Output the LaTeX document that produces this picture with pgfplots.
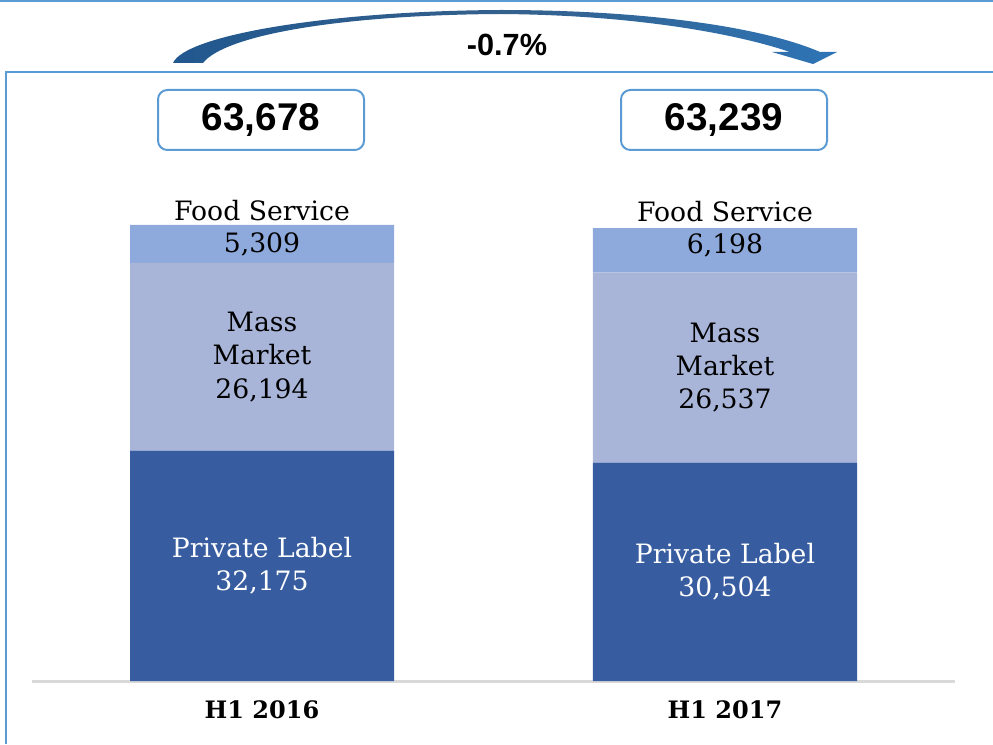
\documentclass[border=0pt]{standalone}
\usepackage{fontspec}
\setmainfont{DejaVu Serif}
\newfontfamily\lsans{Liberation Sans}
\usepackage{pgfplots}
\pgfplotsset{compat=1.18}

\definecolor{privblue}{RGB}{55,93,160}
\definecolor{massblue}{RGB}{168,181,217}
\definecolor{foodblue}{RGB}{142,170,220}
\definecolor{framecol}{RGB}{91,155,213}
\definecolor{basegray}{RGB}{217,217,217}
\definecolor{arrowdark}{RGB}{33,88,143}
\definecolor{arrowlight}{RGB}{46,116,181}

\tikzset{
  barlbl/.style={font=\fontsize{20}{25}\selectfont, align=center, inner sep=0pt},
  totbox/.style={draw=framecol, line width=1.5pt, rounded corners=7pt,
    minimum width=154.5pt, minimum height=45pt, fill=white,
    font=\lsans\bfseries\fontsize{29}{32}\selectfont},
}

\begin{document}
\begin{tikzpicture}[x=0.75pt,y=0.75pt]
\useasboundingbox (0,0) rectangle (993,744);
% frame lines
\draw[framecol, line width=1.5pt] (0,743) -- (993,743);
\draw[framecol, line width=1pt] (993,672) -- (6,672) -- (6,0);

\begin{axis}[
    at={(24pt,47.25pt)}, anchor=south west,
    scale only axis,
    width=692.25pt, height=376pt,
    xmin=-0.4968, xmax=1.4968,
    ymin=0, ymax=70000,
    ybar stacked,
    bar width=198pt,
    axis x line=bottom,
    axis y line=none,
    x axis line style={-, draw=basegray, line width=2.25pt},
    xtick={0,1},
    xticklabels={H1 2016, H1 2017},
    major tick length=0pt,
    ytick=\empty,
    xticklabel style={font=\bfseries\fontsize{18}{20}\selectfont, yshift=-11.5pt},
    clip=false,
]
\addplot[fill=privblue, draw=none] coordinates {(0,32175) (1,30504)};
\addplot[fill=massblue, draw=none] coordinates {(0,26194) (1,26537)};
\addplot[fill=foodblue, draw=none] coordinates {(0,5309) (1,6198)};

% segment centres, labels are set after the axis so they sit on top of the bars
\coordinate (p0) at (axis cs:0,16087);
\coordinate (m0) at (axis cs:0,45272);
\coordinate (f0) at (axis cs:0,61023);
\coordinate (t0) at (axis cs:0,63678);
\coordinate (p1) at (axis cs:1,15252);
\coordinate (m1) at (axis cs:1,43772);
\coordinate (f1) at (axis cs:1,60800);
\coordinate (t1) at (axis cs:1,63239);
\end{axis}

\node[barlbl, text=white] at (p0) {Private Label\\32,175};
\node[barlbl] at (m0) {Mass\\Market\\26,194};
\node[barlbl] at (f0) {5,309};
\node[barlbl, anchor=base, yshift=3.5pt] at (t0) {Food Service};
\node[barlbl, text=white] at (p1) {Private Label\\30,504};
\node[barlbl] at (m1) {Mass\\Market\\26,537};
\node[barlbl] at (f1) {6,198};
\node[barlbl, anchor=base, yshift=5pt] at (t1) {Food Service};

% curved change arrow
\shade[left color=arrowdark, right color=arrowlight, middle color=arrowdark!80!gray]
  (173,681) .. controls (185,709) and (330,733) .. (500,734)
  .. controls (650,734) and (765,716) .. (820,692)
  -- (837,692) -- (813,680) -- (772,692) -- (790,692)
  .. controls (740,709) and (640,729) .. (500,730)
  .. controls (340,729) and (225,709) .. (203,681) -- cycle;
\node[font=\lsans\bfseries\fontsize{23}{26}\selectfont] at (507,699) {-0.7\%};

% total boxes
\node[totbox] at (261,624) {63,678};
\node[totbox] at (724,624) {63,239};
\end{tikzpicture}
\end{document}
